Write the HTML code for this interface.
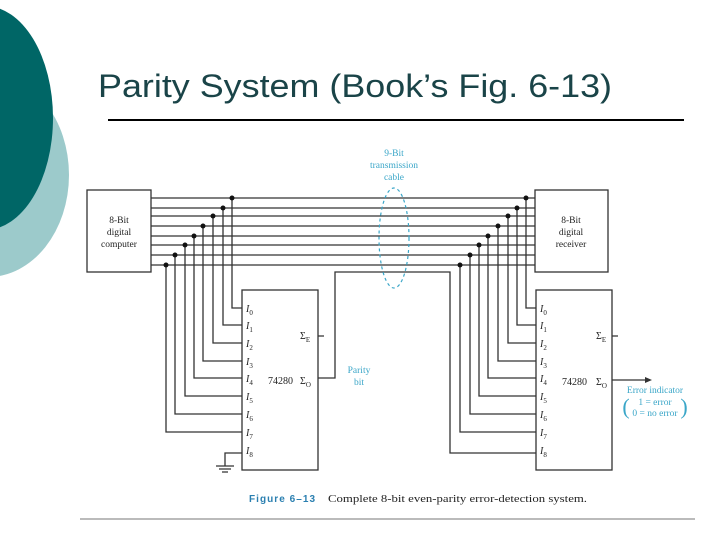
<!DOCTYPE html>
<html><head><meta charset="utf-8"><style>
html,body{margin:0;padding:0;background:#fff;width:720px;height:540px;overflow:hidden}
</style></head><body>
<svg width="720" height="540" xmlns="http://www.w3.org/2000/svg" font-family="Liberation Serif, serif">
<ellipse cx="-12" cy="175" rx="81" ry="102" fill="#9ccacb"/>
<ellipse cx="-15" cy="118" rx="68" ry="112" fill="#006666"/>
<text x="98" y="97" font-family="Liberation Sans, sans-serif" font-size="32" fill="#1a4448" textLength="514" lengthAdjust="spacingAndGlyphs">Parity System (Book’s Fig. 6-13)</text>
<line x1="108" y1="120" x2="684" y2="120" stroke="#000" stroke-width="2"/>
<line x1="80" y1="519" x2="695" y2="519" stroke="#bbb" stroke-width="2"/>
<g stroke="#333" stroke-width="1.3" fill="none">
<rect x="87" y="190" width="64" height="82" fill="#fff"/>
<rect x="535" y="190" width="73" height="82" fill="#fff"/>
<rect x="242" y="290" width="76" height="180"/>
<rect x="536" y="290" width="76" height="180"/>
<path d="M151 198H535M151 208H535M151 216H535M151 226H535M151 236H535M151 245H535M151 255H535M151 265H535"/>
<path d="M232 198V308H242M223 208V325H242M213 216V343H242M203 226V361H242M194 236V378H242M185 245V396H242M175 255V414H242M166 265V432H242"/>
<path d="M242 453H225V466M216 466H234M219 469H231M222 472H228"/>
<path d="M318 378H335V272H450V453H536M318 336H324"/>
<path d="M526 198V308H536M517 208V325H536M508 216V343H536M498 226V361H536M488 236V378H536M479 245V396H536M470 255V414H536M460 265V432H536"/>
<path d="M612 336H618M612 380H648"/>
</g>
<path d="M652 380l-7-3v6z" fill="#333"/>
<g fill="#111">
<circle cx="232" cy="198" r="2.5"/><circle cx="223" cy="208" r="2.5"/><circle cx="213" cy="216" r="2.5"/><circle cx="203" cy="226" r="2.5"/><circle cx="194" cy="236" r="2.5"/><circle cx="185" cy="245" r="2.5"/><circle cx="175" cy="255" r="2.5"/><circle cx="166" cy="265" r="2.5"/>
<circle cx="526" cy="198" r="2.5"/><circle cx="517" cy="208" r="2.5"/><circle cx="508" cy="216" r="2.5"/><circle cx="498" cy="226" r="2.5"/><circle cx="488" cy="236" r="2.5"/><circle cx="479" cy="245" r="2.5"/><circle cx="470" cy="255" r="2.5"/><circle cx="460" cy="265" r="2.5"/>
</g>
<ellipse cx="394" cy="238" rx="15" ry="50" fill="none" stroke="#3aa6c8" stroke-width="1.2" stroke-dasharray="3,3"/>
<g fill="#3aa6c8" font-size="9.5" text-anchor="middle">
<text x="394" y="156">9-Bit</text><text x="394" y="168">transmission</text><text x="394" y="180">cable</text>
<text x="359" y="373">Parity</text><text x="359" y="385">bit</text>
<text x="655" y="393">Error indicator</text>
<text x="655" y="405">1 = error</text><text x="655" y="416">0 = no error</text>
<text x="626" y="414" font-size="22">(</text><text x="684" y="414" font-size="22">)</text>
</g>
<g fill="#222" font-size="9.5" text-anchor="middle">
<text x="119" y="223">8-Bit</text><text x="119" y="235">digital</text><text x="119" y="247">computer</text>
<text x="571" y="223">8-Bit</text><text x="571" y="235">digital</text><text x="571" y="247">receiver</text>
</g>
<g fill="#222" font-size="10" font-style="italic">
<text x="246" y="312">I<tspan font-size="7" dy="3" font-style="normal">0</tspan></text>
<text x="246" y="329">I<tspan font-size="7" dy="3" font-style="normal">1</tspan></text>
<text x="246" y="347">I<tspan font-size="7" dy="3" font-style="normal">2</tspan></text>
<text x="246" y="365">I<tspan font-size="7" dy="3" font-style="normal">3</tspan></text>
<text x="246" y="382">I<tspan font-size="7" dy="3" font-style="normal">4</tspan></text>
<text x="246" y="400">I<tspan font-size="7" dy="3" font-style="normal">5</tspan></text>
<text x="246" y="418">I<tspan font-size="7" dy="3" font-style="normal">6</tspan></text>
<text x="246" y="436">I<tspan font-size="7" dy="3" font-style="normal">7</tspan></text>
<text x="246" y="454">I<tspan font-size="7" dy="3" font-style="normal">8</tspan></text>
<text x="540" y="312">I<tspan font-size="7" dy="3" font-style="normal">0</tspan></text>
<text x="540" y="329">I<tspan font-size="7" dy="3" font-style="normal">1</tspan></text>
<text x="540" y="347">I<tspan font-size="7" dy="3" font-style="normal">2</tspan></text>
<text x="540" y="365">I<tspan font-size="7" dy="3" font-style="normal">3</tspan></text>
<text x="540" y="382">I<tspan font-size="7" dy="3" font-style="normal">4</tspan></text>
<text x="540" y="400">I<tspan font-size="7" dy="3" font-style="normal">5</tspan></text>
<text x="540" y="418">I<tspan font-size="7" dy="3" font-style="normal">6</tspan></text>
<text x="540" y="436">I<tspan font-size="7" dy="3" font-style="normal">7</tspan></text>
<text x="540" y="454">I<tspan font-size="7" dy="3" font-style="normal">8</tspan></text>
</g>
<g fill="#222" font-size="10">
<text x="300" y="339">Σ<tspan font-size="7" dy="3">E</tspan></text>
<text x="300" y="384">Σ<tspan font-size="7" dy="3">O</tspan></text>
<text x="268" y="384">74280</text>
<text x="596" y="339">Σ<tspan font-size="7" dy="3">E</tspan></text>
<text x="596" y="385">Σ<tspan font-size="7" dy="3">O</tspan></text>
<text x="562" y="385">74280</text>
<text x="249" y="502" font-family="Liberation Sans, sans-serif" font-weight="bold" font-size="10" fill="#2a7fb0" textLength="66">Figure 6–13</text>
<text x="328" y="502" font-size="11" textLength="259" lengthAdjust="spacingAndGlyphs">Complete 8-bit even-parity error-detection system.</text>
</g>
</svg>
</body></html>
